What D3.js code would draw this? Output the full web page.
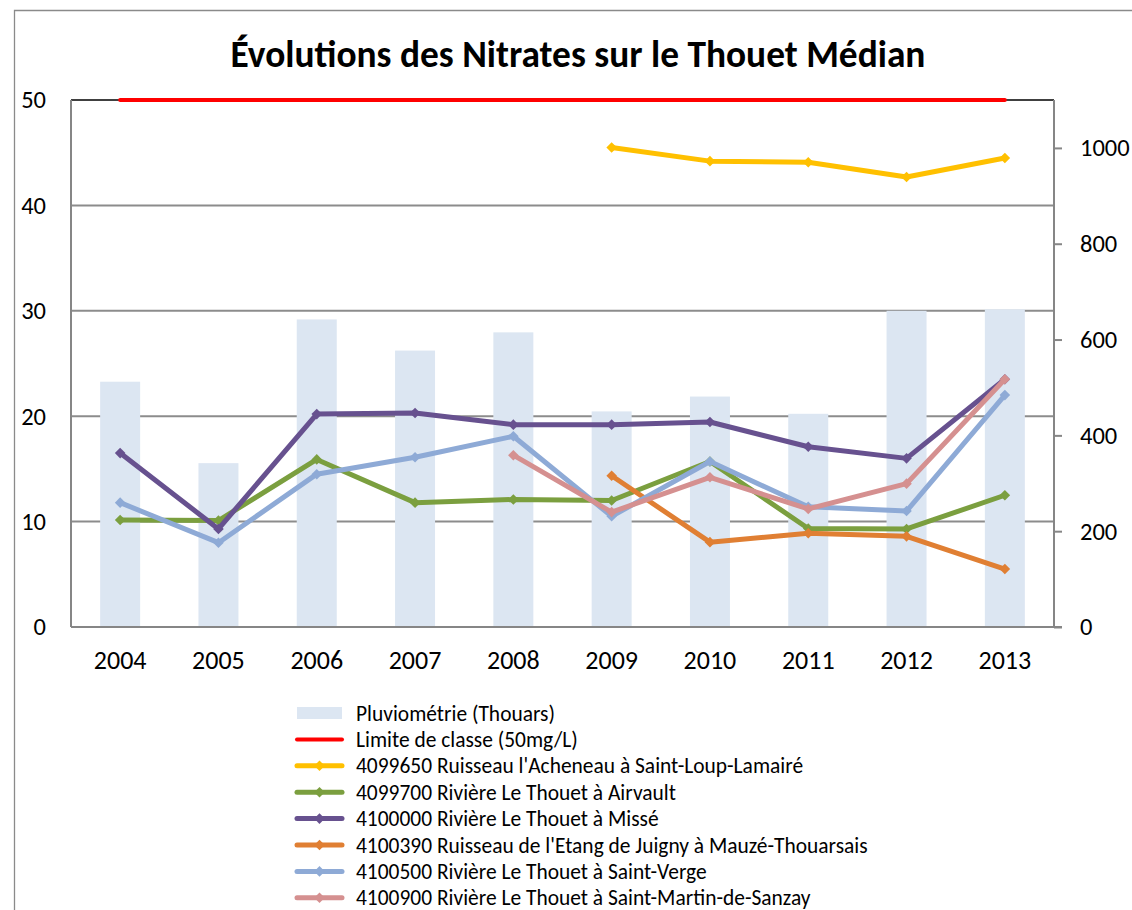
<!DOCTYPE html>
<html><head><meta charset="utf-8">
<script src="https://cdn.jsdelivr.net/npm/d3@7"></script>
<style>body{margin:0;background:#fff}svg{display:block}</style>
</head><body>
<svg id="c" width="1132" height="910"></svg>
<script>
const years = ["2004","2005","2006","2007","2008","2009","2010","2011","2012","2013"];
const pluvio = [512, 342, 642, 577, 615, 450, 481, 445, 660, 663];
const limite = [50, 50, 50, 50, 50, 50, 50, 50, 50, 50];
const s4099650 = [null, null, null, null, null, 45.5, 44.2, 44.1, 42.7, 44.5];
const s4099700 = [10.15, 10.1, 15.9, 11.8, 12.1, 12.0, 15.7, 9.35, 9.3, 12.5];
const s4100000 = [16.5, 9.3, 20.2, 20.3, 19.2, 19.2, 19.45, 17.1, 16.0, 23.5];
const s4100390 = [null, null, null, null, null, 14.35, 8.05, 8.9, 8.6, 5.5];
const s4100500 = [11.8, 8.0, 14.5, 16.1, 18.1, 10.5, 15.7, 11.4, 11.0, 22.0];
const s4100900 = [null, null, null, null, 16.3, 10.9, 14.2, 11.2, 13.6, 23.5];
const leftTicks = [0, 10, 20, 30, 40, 50];
const rightTicks = [0, 200, 400, 600, 800, 1000];
const title = "Évolutions des Nitrates sur le Thouet Médian";

const series = [
  {name:"4099650 Ruisseau l'Acheneau à Saint-Loup-Lamairé", values:s4099650, color:"#FFC000"},
  {name:"4099700 Rivière Le Thouet à Airvault", values:s4099700, color:"#7B9F3F"},
  {name:"4100000 Rivière Le Thouet à Missé", values:s4100000, color:"#67518F"},
  {name:"4100390 Ruisseau de l'Etang de Juigny à Mauzé-Thouarsais", values:s4100390, color:"#E07F33"},
  {name:"4100500 Rivière Le Thouet à Saint-Verge", values:s4100500, color:"#8EAAD6"},
  {name:"4100900 Rivière Le Thouet à Saint-Martin-de-Sanzay", values:s4100900, color:"#D59090"}
];
const barColor = "#DCE6F2", limColor = "#FF0000";
const font = "Carlito, Calibri, Lato, sans-serif";

const svg = d3.select("#c");
const X0 = 71, X1 = 1054, Y0 = 100, Y1 = 627;

// outer chart border
svg.append("path").attr("d","M14.5,910 L14.5,10.5 L1132,10.5").attr("fill","none").attr("stroke","#8a8a8a").attr("stroke-width",1.3);

svg.append("text").attr("x",578).attr("y",67).attr("text-anchor","middle")
  .attr("font-family",font).attr("font-weight","bold").attr("font-size",37.4).attr("fill","#000").text(title);

const x = d3.scaleBand().domain(years).range([X0, X1]).paddingInner(0).paddingOuter(0);
const yL = d3.scaleLinear().domain([0, 50]).range([Y1, Y0]);
const yR = d3.scaleLinear().domain([0, 1100]).range([Y1, Y0]);
const cx = d => x(d) + x.bandwidth()/2;

// gridlines
svg.append("g").selectAll("line").data(leftTicks.filter(t => t>0 && t<50)).join("line")
  .attr("x1",X0).attr("x2",X1).attr("y1",d=>yL(d)).attr("y2",d=>yL(d))
  .attr("stroke","#8c8c8c").attr("stroke-width",2);

// bars
const bw = 40;
svg.append("g").selectAll("rect").data(years).join("rect")
  .attr("x", d => cx(d) - bw/2).attr("width", bw)
  .attr("y", (d,i) => yR(pluvio[i])).attr("height", (d,i) => Y1 - yR(pluvio[i]))
  .attr("fill", barColor);

// top border
svg.append("line").attr("x1",X0).attr("x2",X1).attr("y1",Y0).attr("y2",Y0).attr("stroke","#000").attr("stroke-width",1.5);

// axes
const gL = svg.append("g").attr("transform",`translate(${X0},0)`)
  .call(d3.axisLeft(yL).tickValues(leftTicks).tickSize(0).tickPadding(25));
const gR = svg.append("g").attr("transform",`translate(${X1},0)`)
  .call(d3.axisRight(yR).tickValues(rightTicks).tickFormat(d3.format("d")).tickSize(8).tickPadding(18));
const gB = svg.append("g").attr("transform",`translate(0,${Y1})`)
  .call(d3.axisBottom(x).tickSize(0).tickPadding(24));
[gL,gR,gB].forEach(g => {
  g.select(".domain").attr("stroke","#868686").attr("stroke-width",2);
  g.selectAll(".tick line").attr("stroke","#868686").attr("stroke-width",2);
  g.selectAll("text").attr("font-family",font).attr("font-size",24.5).attr("fill","#000");
});
gB.selectAll("text").attr("font-size",26);
gL.select(".domain").attr("d",`M0,${Y0}V${Y1}`);
gR.select(".domain").attr("d",`M0,${Y0}V${Y1}`);
gB.select(".domain").attr("d",`M${X0},0H${X1+8}`);
gB.selectAll("text").attr("dy","0.71em");

// limite line
svg.append("path").datum(limite)
  .attr("d", d3.line().x((d,i)=>cx(years[i])).y(d=>yL(d)))
  .attr("fill","none").attr("stroke",limColor).attr("stroke-width",4).attr("stroke-linecap","round");

const diamond = d3.symbol().type(d3.symbolSquare).size(56);
series.forEach(s => {
  const g = svg.append("g");
  g.append("path").datum(s.values).attr("d", d3.line().defined(d=>d!=null).x((d,i)=>cx(years[i])).y(d=>yL(d)))
    .attr("fill","none").attr("stroke",s.color).attr("stroke-width",5).attr("stroke-linejoin","round");
  g.selectAll("path.m").data(s.values.map((v,i)=>({v,i})).filter(o=>o.v!=null)).join("path").attr("class","m")
    .attr("d", diamond).attr("transform", o => `translate(${cx(years[o.i])},${yL(o.v)}) rotate(45)`)
    .attr("fill", s.color);
});

// legend
const LX1 = 297, LX2 = 342, LT = 356, LY = 713, LS = 26.4;
const leg = svg.append("g");
const items = [{name:"Pluviométrie (Thouars)", type:"bar"}, {name:"Limite de classe (50mg/L)", type:"lim"}]
  .concat(series.map(s=>({name:s.name, type:"ser", color:s.color})));
items.forEach((it, k) => {
  const y = LY + k*LS;
  if (it.type === "bar") leg.append("rect").attr("x",LX1).attr("y",y-6).attr("width",LX2-LX1).attr("height",12).attr("fill",barColor);
  else if (it.type === "lim") leg.append("line").attr("x1",LX1).attr("x2",LX2).attr("y1",y).attr("y2",y).attr("stroke",limColor).attr("stroke-width",4).attr("stroke-linecap","round");
  else {
    leg.append("line").attr("x1",LX1).attr("x2",LX2).attr("y1",y).attr("y2",y).attr("stroke",it.color).attr("stroke-width",5).attr("stroke-linecap","round");
    leg.append("path").attr("d",diamond).attr("transform",`translate(${(LX1+LX2)/2},${y}) rotate(45)`).attr("fill",it.color);
  }
  leg.append("text").attr("x",LT).attr("y",y).attr("dy","0.35em").attr("font-family",font).attr("font-size",21.45).attr("fill","#000").text(it.name);
});
</script>
</body></html>
